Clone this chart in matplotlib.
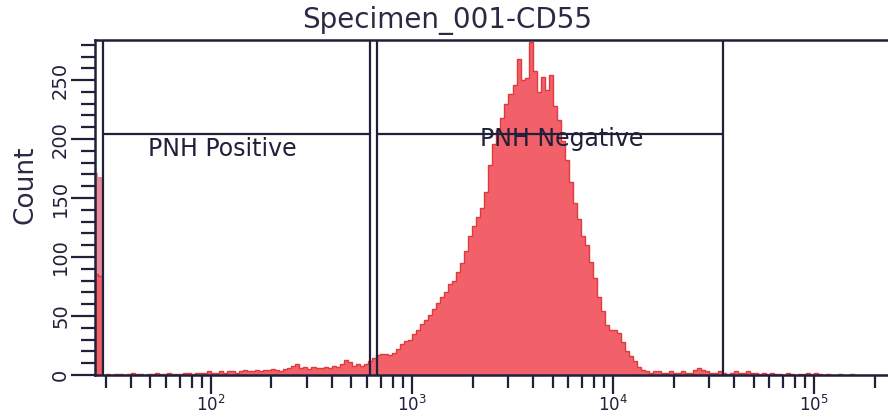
import matplotlib
matplotlib.use("Agg")
import matplotlib.pyplot as plt
import numpy as np
from matplotlib.ticker import MultipleLocator, LogLocator, NullFormatter

# histogram channels: log10 bins of 0.02 decade starting at 10^1.42
bin_lo = 1.42
bin_step = 0.02
counts = (
    [86, 84]
    + [0, 1, 0, 1, 1, 0, 1, 2, 1, 1, 0, 1, 1, 2, 1, 1, 2, 1, 1, 1, 2, 2, 1, 2, 2]
    + [2, 3, 2, 2, 3, 2, 3, 3, 2, 3, 4, 3, 3, 4]
    + [3, 4, 4, 5, 4, 3, 5, 6, 8, 9, 6, 7, 5, 7, 6]
    + [6, 7, 6, 8, 7, 9, 13, 11, 8, 9, 8, 9, 12]
    + [14, 17, 18, 18, 17, 19, 22, 26, 29, 30, 35, 38]
    + [43, 47, 51, 56, 61, 66, 70, 77, 80, 87, 95, 105, 118, 126, 134, 142, 155]
    + [178, 196, 208, 218, 230, 238, 246, 268, 250, 252, 282, 258, 240, 253,
       242, 254, 228, 216, 198, 182, 164, 146, 132, 118, 110, 96, 82, 66, 54,
       42, 38, 38, 36, 28, 20, 16, 12, 7, 4]
    + [3, 2, 3, 3, 2, 2, 3, 2, 2, 3, 2, 2, 4, 6, 4, 3, 2, 2, 3, 2, 1]
    + [2, 3, 2, 2, 3, 2, 2, 1, 2, 1, 2, 1, 1, 0, 2, 1, 0, 1, 1, 2, 1, 2, 1, 0,
       1, 0, 0, 1]
    + [0, 0, 1, 0, 0, 0, 0, 0, 0, 0, 0, 0]
)
pileup = [171, 168]  # off-scale events stacked at the low edge

# gates
gate_pos = (29.0, 618.0)
gate_neg = (670.0, 35200.0)
gate_y = 204
labels = {"PNH Positive": (48.6, 192), "PNH Negative": (2180, 200)}

line_c = "#20203a"
fill_c = "#f2606a"
edge_c = "#e03a3c"

edges = 10 ** (bin_lo + bin_step * np.arange(len(counts) + 1))

fig = plt.figure(figsize=(8.88, 4.19), dpi=100)
ax = fig.add_axes([95 / 888, 1 - 375 / 419, 1 - 95 / 888, (375 - 40) / 419])

ax.stairs(pileup, edges[:3], fill=True, color="#e98a9c", zorder=1)
ax.stairs(counts, edges, fill=True, color=fill_c, zorder=2)
ax.stairs(counts, edges, color=edge_c, lw=1.0, zorder=2)

ax.set_xscale("log")
ax.set_xlim(10 ** 1.423, 10 ** 5.368)
ax.set_ylim(0, 284)

for x in gate_pos + gate_neg:
    ax.axvline(x, color=line_c, lw=1.6, zorder=4)
ax.hlines(gate_y, *gate_pos, color=line_c, lw=1.6, zorder=4)
ax.hlines(gate_y, *gate_neg, color=line_c, lw=1.6, zorder=4)

for name, (x, y) in labels.items():
    ax.text(x, y, name, fontsize=17, color=line_c, va="center", ha="left",
            family="DejaVu Sans", zorder=5)

for s in ["left", "bottom", "top"]:
    ax.spines[s].set_color(line_c)
    ax.spines[s].set_linewidth(1.8)
ax.spines["right"].set_visible(False)

ax.yaxis.set_major_locator(MultipleLocator(50))
ax.yaxis.set_minor_locator(MultipleLocator(10))
ax.xaxis.set_major_locator(LogLocator(base=10))
ax.xaxis.set_minor_locator(LogLocator(base=10, subs=np.arange(2, 10)))
ax.xaxis.set_minor_formatter(NullFormatter())

ax.tick_params(axis="y", which="major", length=17, width=1.6, color=line_c,
               pad=1, labelsize=14, labelcolor=line_c)
ax.tick_params(axis="y", which="minor", length=10, width=1.6, color=line_c)
ax.tick_params(axis="x", which="major", length=14, width=1.6, color=line_c,
               pad=0, labelsize=12, labelcolor=line_c)
ax.tick_params(axis="x", which="minor", length=9, width=1.6, color=line_c)
for lab in ax.get_yticklabels():
    lab.set_rotation(90)
    lab.set_va("center")

fig.text(0.503, 0.952, "Specimen_001-CD55", ha="center", va="center",
         fontsize=20, color="#2a2a44", family="DejaVu Sans")
fig.text(25 / 888, 1 - 185 / 419, "Count", rotation=90, ha="center",
         va="center", fontsize=19, color="#2a2a44", family="DejaVu Sans")

fig.savefig("out.png", dpi=100)
